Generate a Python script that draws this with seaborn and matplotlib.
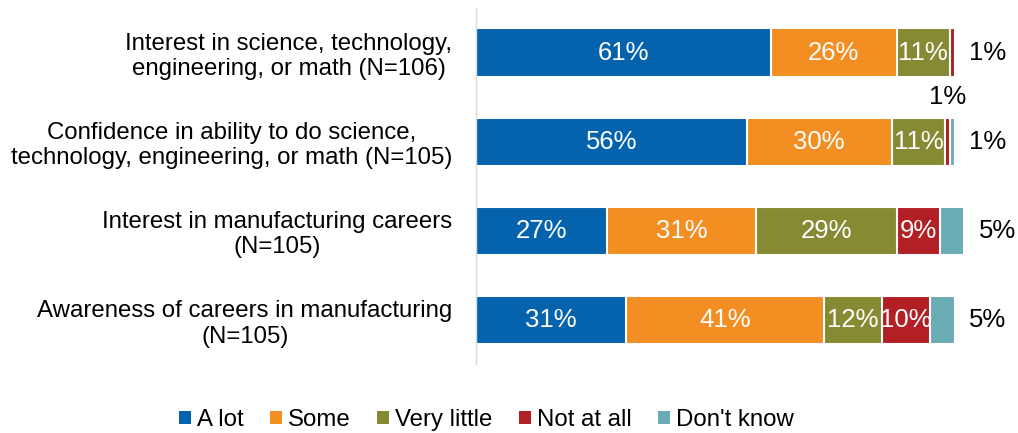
import numpy as np
import pandas as pd
import matplotlib
matplotlib.use("Agg")
import matplotlib.pyplot as plt
from matplotlib.patches import Patch
import seaborn as sns

categories = [
    "Interest in science, technology,\nengineering, or math (N=106)",
    "Confidence in ability to do science,\ntechnology, engineering, or math (N=105)",
    "Interest in manufacturing careers\n(N=105)",
    "Awareness of careers in manufacturing\n(N=105)",
]
series = ["A lot", "Some", "Very little", "Not at all", "Don't know"]
a_lot = [61, 56, 27, 31]
some = [26, 30, 31, 41]
very_little = [11, 11, 29, 12]
not_at_all = [1, 1, 9, 10]
dont_know = [0, 1, 5, 5]
colors = ["#0563AE", "#F28E22", "#868A33", "#B21F24", "#6BADB6"]

values = [a_lot, some, very_little, not_at_all, dont_know]

sns.set_theme(style="white")
plt.rcParams["font.family"] = ["Liberation Sans", "DejaVu Sans"]

fig = plt.figure(figsize=(10.18, 4.33), dpi=100)
ax = fig.add_axes([0.4676, 0.159, 0.5224, 0.8225])

cum = np.cumsum(np.array(values), axis=0)
df_rows = []
for si, s in enumerate(series):
    for ci, c in enumerate(categories):
        df_rows.append({"cat": c, "series": s, "end": cum[si, ci]})
df = pd.DataFrame(df_rows)

# draw from the longest cumulative to the shortest so stacks overlay
for si in range(len(series) - 1, -1, -1):
    sub = df[df["series"] == series[si]]
    sns.barplot(data=sub, y="cat", x="end", orient="h", color=colors[si],
                saturation=1, width=0.54, edgecolor="white", linewidth=1.5,
                ax=ax, order=categories)

fs = 17.3
fl = 18.5
for ci in range(len(categories)):
    left = 0
    nz = [si for si in range(len(series)) if values[si][ci] > 0]
    last = nz[-1]
    total = cum[-1, ci]
    for si in range(len(series)):
        v = values[si][ci]
        if v <= 0:
            left += v
            continue
        lbl = f"{v}%"
        if si == last and (v < 3 or si == len(series) - 1):
            ax.text(total + 3, ci, lbl, ha="left", va="center",
                    fontsize=fl, color="black")
        elif v < 3:
            ax.text(left + v / 2, ci - 0.5, lbl, ha="center", va="center",
                    fontsize=fl, color="black")
        else:
            ax.text(left + v / 2, ci, lbl, ha="center", va="center",
                    fontsize=fl, color="white")
        left += v

ax.set_xlim(0, 110)
ax.set_ylim(3.5, -0.5)
ax.set_xlabel("")
ax.set_ylabel("")
ax.set_xticks([])
ax.tick_params(axis="y", length=0, labelsize=fs, pad=17, labelcolor="black")
for lab in ax.get_yticklabels():
    lab.set_horizontalalignment("right")
    lab.set_multialignment("center")
for sp in ["top", "right", "bottom"]:
    ax.spines[sp].set_visible(False)
ax.spines["left"].set_color("#D9D9D9")
ax.spines["left"].set_linewidth(1)

handles = [Patch(facecolor=c, edgecolor="none") for c in colors]
leg = fig.legend(handles, series, loc="center", bbox_to_anchor=(0.478, 0.03),
                 ncol=5, frameon=False, fontsize=fs, handlelength=0.5,
                 handleheight=0.5, handletextpad=0.25, columnspacing=1.1)
for t in leg.get_texts():
    t.set_color("black")

fig.savefig("out.png", dpi=100)
